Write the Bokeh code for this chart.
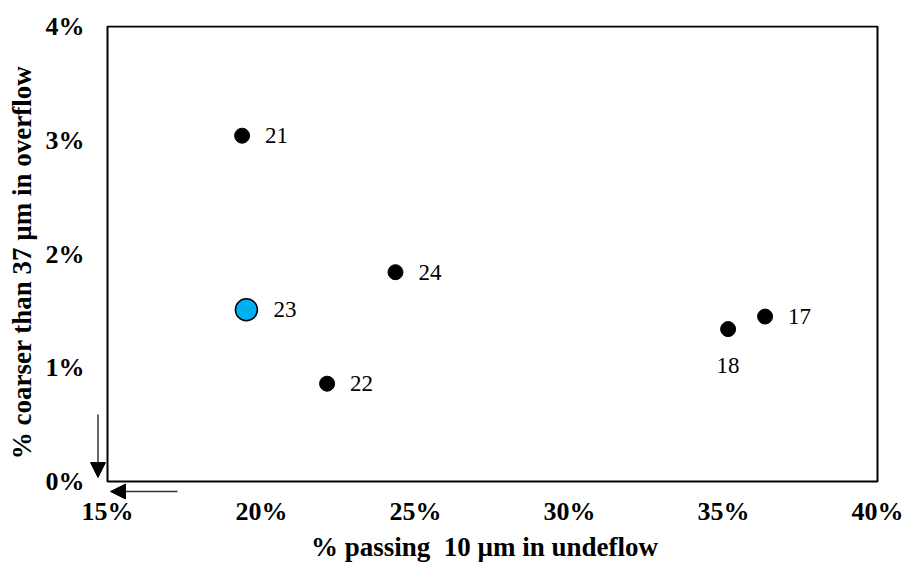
from bokeh.plotting import figure
from bokeh.models import ColumnDataSource, NumeralTickFormatter, FixedTicker, Range1d, Arrow, NormalHead
from bokeh.core.properties import value
from bokeh.embed import file_html
from bokeh.resources import INLINE

# data (fractions)
ids = ["21", "24", "22", "17"]
px = [0.1937, 0.2435, 0.2213, 0.3635]
py = [0.0304, 0.0184, 0.0086, 0.0145]

below_ids = ["18"]
below_x = [0.3515]
below_y = [0.0134]

hl_ids = ["23"]
hl_x = [0.1951]
hl_y = [0.0151]

x_ticks = [0.15, 0.20, 0.25, 0.30, 0.35, 0.40]
y_ticks = [0.00, 0.01, 0.02, 0.03, 0.04]

SERIF = "Liberation Serif"

x_lo, x_hi = x_ticks[0], x_ticks[-1]
y_lo, y_hi = y_ticks[0], y_ticks[-1]
# pixel scale of the axes box: 770 px wide, 455 px tall
sx = (x_hi - x_lo) / 770.0
sy = (y_hi - y_lo) / 455.0

p = figure(width=904, height=565, output_backend="svg", toolbar_location=None,
           x_range=Range1d(x_lo - 18 * sx, x_hi + 2 * sx),
           y_range=Range1d(y_lo - 18 * sy, y_hi + 1 * sy),
           min_border_left=89, min_border_top=25, min_border_right=25, min_border_bottom=66)

p.outline_line_color = None
p.xgrid.visible = False
p.ygrid.visible = False

for ax in (p.xaxis[0], p.yaxis[0]):
    ax.axis_line_color = None
    ax.major_tick_line_color = None
    ax.minor_tick_line_color = None
    ax.major_tick_in = 0
    ax.major_tick_out = 0
    ax.minor_tick_in = 0
    ax.minor_tick_out = 0
    ax.major_label_text_font = SERIF
    ax.major_label_text_font_style = "bold"
    ax.major_label_text_font_size = "26px"
    ax.major_label_text_color = "black"
    ax.axis_label_text_font = SERIF
    ax.axis_label_text_font_style = "bold"
    ax.axis_label_text_font_size = "27px"
    ax.axis_label_text_color = "black"
    ax.formatter = NumeralTickFormatter(format="0%")

p.xaxis[0].ticker = FixedTicker(ticks=x_ticks)
p.yaxis[0].ticker = FixedTicker(ticks=y_ticks)
p.xaxis[0].axis_label = "% passing\u00a0 10 µm in undeflow"
p.yaxis[0].axis_label = "% coarser than 37 µm in overflow"
p.xaxis[0].major_label_standoff = -3
p.xaxis[0].axis_label_standoff = 3
p.yaxis[0].major_label_standoff = 5
p.yaxis[0].axis_label_standoff = 6

# axes box
p.quad(left=[x_lo], right=[x_hi], bottom=[y_lo], top=[y_hi],
       fill_color=None, line_color="black", line_width=2)

src = ColumnDataSource(dict(x=px, y=py, t=ids))
p.scatter("x", "y", source=src, size=15, fill_color="black", line_color="black")
p.text("x", "y", text="t", source=src, x_offset=23, text_baseline="middle",
       text_align="left", text_font=value(SERIF), text_font_size="23px", text_color="black")

bsrc = ColumnDataSource(dict(x=below_x, y=below_y, t=below_ids))
p.scatter("x", "y", source=bsrc, size=15, fill_color="black", line_color="black")
p.text("x", "y", text="t", source=bsrc, y_offset=36, text_baseline="middle",
       text_align="center", text_font=value(SERIF), text_font_size="23px", text_color="black")

hsrc = ColumnDataSource(dict(x=hl_x, y=hl_y, t=hl_ids))
p.scatter("x", "y", source=hsrc, size=22, fill_color="#00B0F0", line_color="black", line_width=1.5)
p.text("x", "y", text="t", source=hsrc, x_offset=27, text_baseline="middle",
       text_align="left", text_font=value(SERIF), text_font_size="23px", text_color="black")

# arrows pointing to the origin corner
p.add_layout(Arrow(x_start=x_lo - 9.5 * sx, y_start=y_lo + 67 * sy,
                   x_end=x_lo - 9.5 * sx, y_end=y_lo + 4 * sy,
                   line_color="#333333", line_width=1.5,
                   end=NormalHead(size=15, fill_color="black", line_color="black")))
p.add_layout(Arrow(x_start=x_lo + 70 * sx, y_start=y_lo - 10 * sy,
                   x_end=x_lo + 3 * sx, y_end=y_lo - 10 * sy,
                   line_color="#333333", line_width=1.5,
                   end=NormalHead(size=15, fill_color="black", line_color="black")))

open("out.html", "w").write(file_html(p, INLINE))
